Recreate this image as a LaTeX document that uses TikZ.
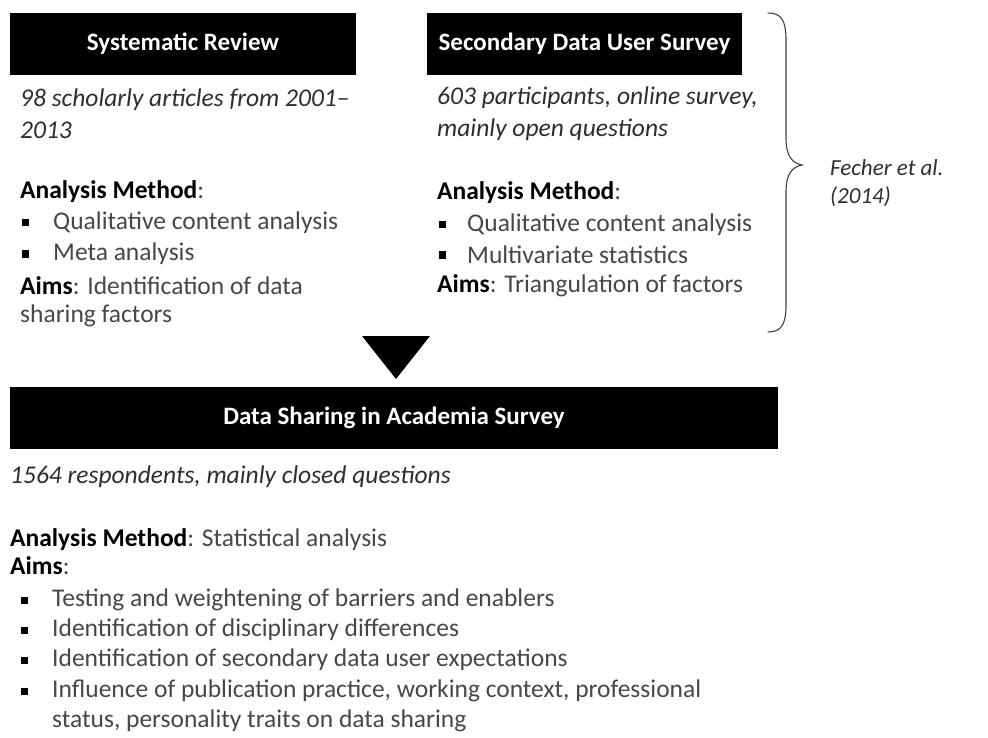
\documentclass[tikz,border=0pt]{standalone}
\usepackage{fontspec}
\setmainfont{Carlito}
\begin{document}
\begin{tikzpicture}[x=1pt,y=-1pt,
  hdr/.style={fill=black,text=white,font=\bfseries\fontsize{25}{30}\selectfont,inner sep=0,minimum height=62pt},
  txt/.style={anchor=west,inner sep=0,text=black!72,font=\fontsize{25.5}{30}\selectfont},
  itx/.style={txt,text=black!82,font=\itshape\fontsize{25.5}{30}\selectfont},
  bul/.style={fill=black,minimum size=7pt,inner sep=0}]
\useasboundingbox (0,0) rectangle (988,738);
% headers
\node[hdr,minimum width=346pt] (h1) at (183,44) {Systematic Review};
\node[hdr,minimum width=315pt] (h2) at (584.5,44) {Secondary Data User Survey};
\node[hdr,minimum width=768pt] (h3) at (394,418) {Data Sharing in Academia Survey};
% box 1 text
\node[itx] (a1) at (20,100) {98 scholarly articles from 2001--};
\node[itx] (a2) at (20,130) {2013};
\node[txt] (a3) at (20,192) {\textcolor{black}{\textbf{Analysis Method}}:};
\node[bul] (ab1) at (25,223) {};
\node[txt] (a4) at (53,223) {Qualitative content analysis};
\node[bul] (ab2) at (25,254) {};
\node[txt] (a5) at (53,254) {Meta analysis};
\node[txt] (a6) at (20,286) {\textcolor{black}{\textbf{Aims}}: Identification of data};
\node[txt] (a7) at (20,316) {sharing factors};
% box 2 text
\node[itx] (b1) at (437,98) {603 participants, online survey,};
\node[itx] (b2) at (437,130) {mainly open questions};
\node[txt] (b3) at (437,193) {\textcolor{black}{\textbf{Analysis Method}}:};
\node[bul] (bb1) at (442,225) {};
\node[txt] (b4) at (467,225) {Qualitative content analysis};
\node[bul] (bb2) at (442,255) {};
\node[txt] (b5) at (467,255) {Multivariate statistics};
\node[txt] (b6) at (437,286) {\textcolor{black}{\textbf{Aims}}: Triangulation of factors};
% brace and citation
\draw[line width=1.1pt,black!75,line cap=round]
  (768,13) .. controls (781,13) and (786,20) .. (786,40) -- (786,138)
  .. controls (786,156) and (792,163) .. (802,165)
  .. controls (792,167) and (786,174) .. (786,192) -- (786,305)
  .. controls (786,325) and (781,332) .. (768,332);
\node[itx,font=\itshape\fontsize{23}{28}\selectfont] (f1) at (830,168) {Fecher et al.};
\node[itx,font=\itshape\fontsize{23}{28}\selectfont] (f2) at (830,197) {(2014)};
% arrow triangle
\coordinate (tl) at (362,336);
\coordinate (tr) at (430,336);
\coordinate (tt) at (396,379);
\fill[black] (tl) -- (tr) -- (tt) -- cycle;
% bottom text
\node[itx] (c1) at (10,477) {1564 respondents, mainly closed questions};
\node[txt] (c2) at (10,540) {\textcolor{black}{\textbf{Analysis Method}}: Statistical analysis};
\node[txt] (c3) at (10,566) {\textcolor{black}{\textbf{Aims}}:};
\node[bul] (cb1) at (24,600) {};
\node[txt] (c4) at (52,600) {Testing and weightening of barriers and enablers};
\node[bul] (cb2) at (24,630) {};
\node[txt] (c5) at (52,630) {Identification of disciplinary differences};
\node[bul] (cb3) at (24,660) {};
\node[txt] (c6) at (52,660) {Identification of secondary data user expectations};
\node[bul] (cb4) at (24,691) {};
\node[txt] (c7) at (52,691) {Influence of publication practice, working context, professional};
\node[txt] (c8) at (52,721) {status, personality traits on data sharing};
\end{tikzpicture}
\end{document}
